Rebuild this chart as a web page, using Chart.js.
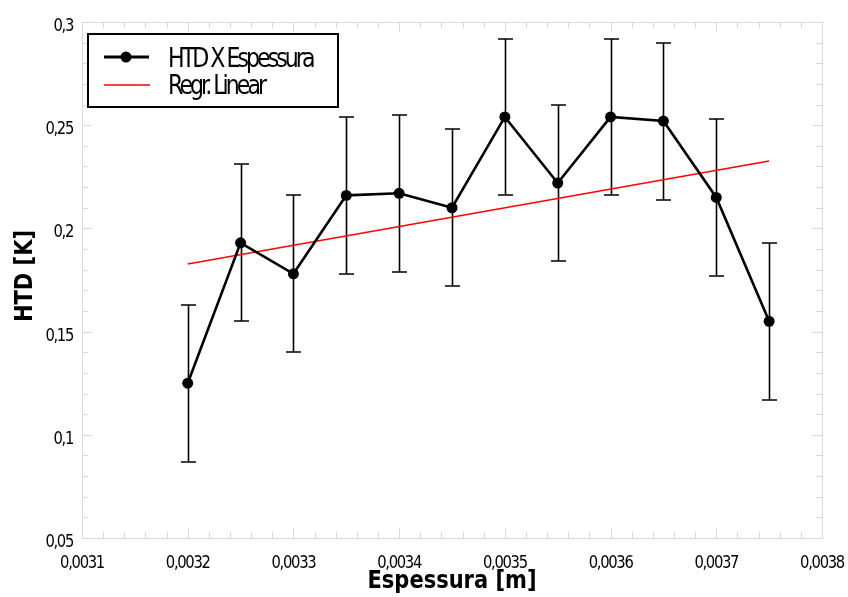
<!DOCTYPE html>
<html>
<head>
<meta charset="utf-8">
<script src="https://cdn.jsdelivr.net/npm/chart.js@4.4.1/dist/chart.umd.min.js"></script>
<style>
    html, body { margin: 0; padding: 0; background: #fff; }
    #wrap { width: 848px; height: 597px; }
</style>
</head>
<body>
<div id="wrap"><canvas id="chart"></canvas></div>
<script>
// Data
const thickness = [0.0032, 0.00325, 0.0033, 0.00335, 0.0034, 0.00345, 0.0035, 0.00355, 0.0036, 0.00365, 0.0037, 0.00375];
const htd = [0.125, 0.193, 0.178, 0.216, 0.217, 0.210, 0.254, 0.222, 0.254, 0.252, 0.215, 0.155];
const htdError = [0.038, 0.038, 0.038, 0.038, 0.038, 0.038, 0.038, 0.038, 0.038, 0.038, 0.038, 0.038];
const regrX = [0.0032, 0.00375];
const regrY = [0.1828, 0.2327];
const xTickValues = [0.0031, 0.0032, 0.0033, 0.0034, 0.0035, 0.0036, 0.0037, 0.0038];
const yTickValues = [0.05, 0.1, 0.15, 0.2, 0.25, 0.3];
const seriesLabels = ['HTD X Espessura', 'Regr. Linear'];
const axisTitles = { x: 'Espessura [m]', y: 'HTD [K]' };

const FONT = '"DejaVu Sans", sans-serif';
const FRAME_COLOR = '#d9d9d9';

// squeezed text, the reference renders its labels narrow
function drawText(ctx, text, x, y, opt) {
    ctx.save();
    ctx.font = opt.font;
    ctx.fillStyle = opt.color || '#000';
    ctx.textAlign = 'left';
    ctx.textBaseline = 'alphabetic';
    ctx.letterSpacing = (opt.spacing || 0) + 'px';
    const w = ctx.measureText(text).width * opt.sx;
    ctx.translate(x, y);
    if (opt.rotate) ctx.rotate(opt.rotate);
    let left = 0;
    if (opt.align === 'center') left = -w / 2;
    else if (opt.align === 'right') left = -w;
    ctx.translate(left, 0);
    ctx.scale(opt.sx, 1);
    ctx.fillText(text, 0, 0);
    ctx.restore();
}

function formatTick(v, digits) {
    return Number(v.toFixed(digits)).toString().replace('.', ',');
}

const frameAndTicks = {
    id: 'frameAndTicks',
    beforeDatasetsDraw(chart) {
        const { ctx, chartArea: a, scales } = chart;
        const xs = scales.x, ys = scales.y;
        ctx.save();
        ctx.strokeStyle = FRAME_COLOR;
        ctx.lineWidth = 1;
        ctx.strokeRect(Math.round(a.left) + 0.5, Math.round(a.top) + 0.5, Math.round(a.right - a.left), Math.round(a.bottom - a.top));

        const major = 10, minor = 6;
        const line = (x1, y1, x2, y2) => {
            ctx.beginPath(); ctx.moveTo(x1, y1); ctx.lineTo(x2, y2); ctx.stroke();
        };
        const xt = xs.ticks.map(t => t.value);
        xt.forEach((v, i) => {
            const px = Math.round(xs.getPixelForValue(v)) + 0.5;
            line(px, a.bottom, px, a.bottom - major);
            line(px, a.top, px, a.top + major);
            if (i < xt.length - 1) {
                for (let k = 1; k < 5; k++) {
                    const m = Math.round(xs.getPixelForValue(v + (xt[i + 1] - v) * k / 5)) + 0.5;
                    line(m, a.bottom, m, a.bottom - minor);
                    line(m, a.top, m, a.top + minor);
                }
            }
        });
        const yt = ys.ticks.map(t => t.value);
        yt.forEach((v, i) => {
            const py = Math.round(ys.getPixelForValue(v)) + 0.5;
            line(a.left, py, a.left + major, py);
            line(a.right, py, a.right - major, py);
            if (i < yt.length - 1) {
                for (let k = 1; k < 5; k++) {
                    const m = Math.round(ys.getPixelForValue(v + (yt[i + 1] - v) * k / 5)) + 0.5;
                    line(a.left, m, a.left + minor, m);
                    line(a.right, m, a.right - minor, m);
                }
            }
        });
        ctx.restore();

        // tick labels
        const tickFont = { font: '18px ' + FONT, sx: 0.82, spacing: -1.6 };
        xt.forEach(v => {
            drawText(ctx, formatTick(v, 4), xs.getPixelForValue(v), a.bottom + 30, { ...tickFont, align: 'center' });
        });
        yt.forEach(v => {
            drawText(ctx, formatTick(v, 2), a.left - 9, ys.getPixelForValue(v) + 9, { ...tickFont, align: 'right' });
        });

        // axis titles
        const titleFont = { font: 'bold 25px ' + FONT, sx: 0.84, spacing: 0 };
        drawText(ctx, axisTitles.x, (a.left + a.right) / 2, a.bottom + 50, { ...titleFont, align: 'center' });
        drawText(ctx, axisTitles.y, 32, (a.top + a.bottom) / 2 - 4, { ...titleFont, align: 'center', rotate: -Math.PI / 2 });
    }
};

const errorBars = {
    id: 'errorBars',
    beforeDatasetsDraw(chart) {
        const { ctx, scales } = chart;
        ctx.save();
        ctx.strokeStyle = '#000';
        ctx.lineWidth = 1.6;
        thickness.forEach((xv, i) => {
            const x = Math.round(scales.x.getPixelForValue(xv)) + 0.5;
            const yTop = Math.round(scales.y.getPixelForValue(htd[i] + htdError[i]));
            const yBot = Math.round(scales.y.getPixelForValue(htd[i] - htdError[i]));
            ctx.beginPath();
            ctx.moveTo(x, yTop); ctx.lineTo(x, yBot);
            ctx.moveTo(x - 7.5, yTop); ctx.lineTo(x + 7.5, yTop);
            ctx.moveTo(x - 7.5, yBot); ctx.lineTo(x + 7.5, yBot);
            ctx.stroke();
        });
        ctx.restore();
    }
};

const boxedLegend = {
    id: 'boxedLegend',
    afterDraw(chart) {
        const ctx = chart.ctx;
        ctx.save();
        ctx.fillStyle = '#fff';
        ctx.fillRect(88, 34, 250, 73);
        ctx.strokeStyle = '#000';
        ctx.lineWidth = 2;
        ctx.strokeRect(88, 34, 250, 73);

        ctx.lineWidth = 3;
        ctx.beginPath(); ctx.moveTo(104, 57); ctx.lineTo(149, 57); ctx.stroke();
        ctx.fillStyle = '#000';
        ctx.beginPath(); ctx.arc(126, 57, 5.5, 0, Math.PI * 2); ctx.fill();

        ctx.strokeStyle = '#ff0000';
        ctx.lineWidth = 1.5;
        ctx.beginPath(); ctx.moveTo(104, 85); ctx.lineTo(150, 85); ctx.stroke();
        ctx.restore();

        const legendFont = { font: '26px ' + FONT, sx: 0.85, spacing: -3.5 };
        drawText(ctx, seriesLabels[0], 168, 67, legendFont);
        drawText(ctx, seriesLabels[1], 168, 94, legendFont);
    }
};

new Chart(document.getElementById('chart'), {
    type: 'scatter',
    data: {
        datasets: [
            {
                label: seriesLabels[0],
                data: thickness.map((x, i) => ({ x, y: htd[i] })),
                showLine: true,
                borderColor: '#000',
                backgroundColor: '#000',
                borderWidth: 2.6,
                pointRadius: 5.5,
                pointBorderWidth: 0,
                pointHoverRadius: 5.5,
                tension: 0
            },
            {
                label: seriesLabels[1],
                data: regrX.map((x, i) => ({ x, y: regrY[i] })),
                showLine: true,
                borderColor: '#ff0000',
                backgroundColor: '#ff0000',
                borderWidth: 1.5,
                pointRadius: 0,
                tension: 0
            }
        ]
    },
    options: {
        responsive: true,
        maintainAspectRatio: false,
        animation: false,
        events: [],
        layout: { padding: { top: 22, right: 26, left: 0, bottom: 0 } },
        plugins: {
            legend: { display: false },
            tooltip: { enabled: false }
        },
        scales: {
            x: {
                type: 'linear',
                min: 0.0031,
                max: 0.0038,
                grid: { display: false },
                border: { display: false },
                ticks: { display: false },
                afterBuildTicks: scale => { scale.ticks = xTickValues.map(value => ({ value })); },
                afterFit: scale => { scale.height = 59; }
            },
            y: {
                type: 'linear',
                min: 0.05,
                max: 0.3,
                grid: { display: false },
                border: { display: false },
                ticks: { display: false },
                afterBuildTicks: scale => { scale.ticks = yTickValues.map(value => ({ value })); },
                afterFit: scale => { scale.width = 82; }
            }
        }
    },
    plugins: [frameAndTicks, errorBars, boxedLegend]
});
</script>
</body>
</html>
